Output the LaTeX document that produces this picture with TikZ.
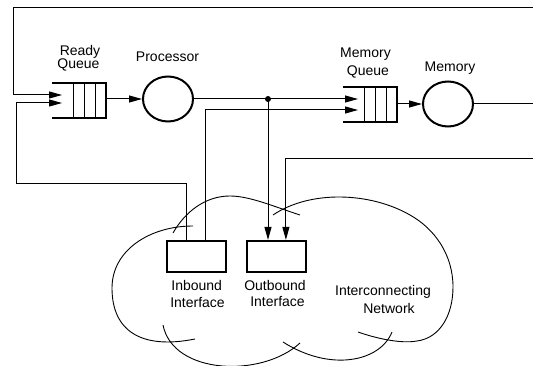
\documentclass[tikz,border=0pt]{standalone}
\usepackage{fontspec}
\setmainfont{Liberation Sans}
\usetikzlibrary{arrows.meta,shapes.geometric,calc}
\begin{document}
\begin{tikzpicture}[x=1pt,y=-1pt,
  wire/.style={line width=1pt},
  arr/.style={wire,-{Triangle[length=13pt,width=7pt]}},
  qline/.style={line width=2.2pt,line join=miter},
  lbl/.style={anchor=base,inner sep=0,font=\fontsize{14}{14}\selectfont},
  srv/.style={ellipse,draw,line width=2pt,minimum width=50pt,minimum height=45pt,inner sep=0},
  ifbox/.style={rectangle,draw,line width=2.2pt,minimum width=59pt,minimum height=31pt,inner sep=0},
  qframe/.style={rectangle,minimum width=54pt,minimum height=35pt,inner sep=0},
  cloudline/.style={line width=0.9pt}]
\useasboundingbox (0,0) rectangle (533,366);

% queues, servers, interfaces
\node[qframe] (rq) at (79,100.5) {};
\node[qframe] (mq) at (370,104.5) {};
\node[srv] (proc) at (168,99) {};
\node[srv] (mem) at (448,104) {};
\node[ifbox] (ib) at (196.5,256.5) {};
\node[ifbox] (ob) at (276.5,256.5) {};
\node[circle,fill,inner sep=0,minimum size=6pt] (dot) at (268,99) {};

\foreach \q in {rq,mq} {
  \draw[qline] (\q.north west) -- (\q.north east) -- (\q.south east) -- (\q.south west);
  \foreach \d in {22,33,44}
    \draw[wire] ($(\q.north west)+(\d,0)$) -- ($(\q.south west)+(\d,0)$);
}

% labels
\node[lbl] (l1) at (80,55.7) {Ready};
\node[lbl] (l2) at (78.5,68.3) {Queue};
\node[lbl] (l3) at (167.5,61.7) {Processor};
\node[lbl] (l4) at (365.5,57.7) {Memory};
\node[lbl] (l5) at (368,75.7) {Queue};
\node[lbl] (l6) at (450,71.7) {Memory};
\node[lbl] (l7) at (196.7,290.7) {Inbound};
\node[lbl] (l8) at (197.5,307.3) {Interface};
\node[lbl] (l9) at (275,290.7) {Outbound};
\node[lbl] (l10) at (277.5,306.7) {Interface};
\node[lbl] (l11) at (383,295.5) {Interconnecting};
\node[lbl] (l12) at (389,313.8) {Network};

% connection points
\coordinate (rqin1) at (62,95);
\coordinate (rqin2) at (62,103);
\coordinate (mqin1) at (358,99);
\coordinate (mqin2) at (358,110);
\coordinate (ibA) at ($(ib.north west)+(21,0)$);
\coordinate (ibB) at ($(ib.north west)+(40,0)$);
\coordinate (obB) at ($(ob.north west)+(40,0)$);
\coordinate (e1) at (533,8);
\coordinate (e2) at (533,104);
\coordinate (e3) at (533,159);
\coordinate (c1) at (13,8);
\coordinate (c2) at (16,184);

% connectors
\draw[arr] (e1) -- (c1) |- (rqin1);
\draw[arr] (ibA) |- (c2) |- (rqin2);
\draw[arr] (rq.east |- proc.west) -- (proc.west);
\draw[wire] (proc.east) -- (dot.center);
\draw[arr] (dot.center) -- (mqin1);
\draw[arr] (dot.center) -- (dot.center |- ob.north);
\draw[arr] (ibB) |- (mqin2);
\draw[arr] (mq.east |- mem.west) -- (mem.west);
\draw[wire] (mem.east) -- (e2);
\draw[arr] (e3) -| (obB);

% cloud
\draw[cloudline] (193,226) .. controls (150,226) and (112,250) .. (112,288)
  .. controls (112,330) and (140,350) .. (195,339);
\draw[cloudline] (173,233) .. controls (185,212) and (205,196) .. (230,196)
  .. controls (250,196) and (275,207) .. (300,215);
\draw[cloudline] (273,215) .. controls (310,190) and (370,192) .. (410,215)
  .. controls (435,229) and (453,255) .. (453,287)
  .. controls (453,315) and (440,338) .. (417,341)
  .. controls (400,344) and (375,338) .. (358,332);
\draw[cloudline] (392,332) .. controls (380,362) and (330,372) .. (283,342);
\draw[cloudline] (163,325) .. controls (173,375) and (262,378) .. (300,343);
\end{tikzpicture}
\end{document}
